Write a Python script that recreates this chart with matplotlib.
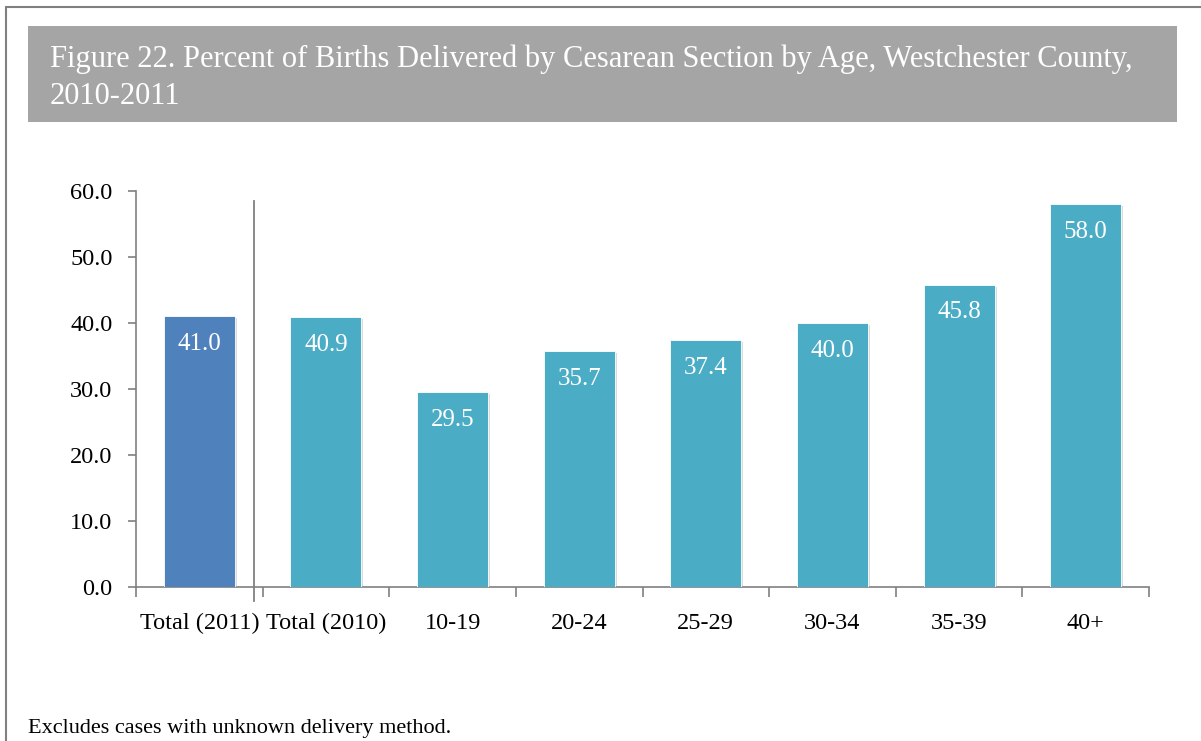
import numpy as np
import matplotlib
matplotlib.use('Agg')
import matplotlib.pyplot as plt
import matplotlib.patheffects as pe
from matplotlib.patches import Rectangle

# data
categories = ['Total (2011)', 'Total (2010)', '10-19', '20-24', '25-29', '30-34', '35-39', '40+']
values = [41.0, 40.9, 29.5, 35.7, 37.4, 40.0, 45.8, 58.0]
bar_colors = ['#4F81BD'] + ['#4BACC6'] * 7
yticks = [0, 10, 20, 30, 40, 50, 60]

TITLE = 'Figure 22. Percent of Births Delivered by Cesarean Section by Age, Westchester County,\n2010-2011'
NOTE = 'Excludes cases with unknown delivery method.'

plt.rcParams['font.family'] = ['Liberation Serif', 'DejaVu Serif']

W, H = 1201, 741
fig = plt.figure(figsize=(W / 100, H / 100), dpi=100)

# outer frame and gray title band (pixel coords -> figure fractions)
fig.patches.append(Rectangle((6 / W, -0.1), 1.2, 1 - 6.5 / H + 0.1, transform=fig.transFigure,
                             fill=False, edgecolor='#808080', linewidth=1.5))
fig.patches.append(Rectangle((28 / W, 1 - 122 / H), (1177 - 28) / W, 96 / H, transform=fig.transFigure,
                             facecolor='#A5A5A5', edgecolor='none'))
fig.text(50 / W, 1 - 78 / H, TITLE, color='white', fontsize=22, va='center', ha='left',
         linespacing=1.38)
fig.text(28 / W, 1 - 728 / H, NOTE, color='black', fontsize=16, va='center', ha='left')

ax = fig.add_axes([136 / W, 154 / H, (1149 - 136) / W, (587 - 191) / H])
x = np.arange(len(categories))
bars = ax.bar(x, values, width=0.56, color=bar_colors, edgecolor='white', linewidth=0.6, zorder=3)
for b in bars:
    b.set_path_effects([pe.SimplePatchShadow(offset=(1.5, -1.5), shadow_rgbFace='#999999', alpha=0.35),
                        pe.Normal()])

for xi, v in zip(x, values):
    ax.text(xi, v - 4.2, f'{v:.1f}', color='white', ha='center', va='center', fontsize=18, zorder=4)

ax.set_xlim(-0.5, len(categories) - 0.5)
ax.set_ylim(0, 60)
ax.set_yticks(yticks)
ax.set_yticklabels([f'{t:.1f}' for t in yticks], fontsize=17.5)
ax.set_xticks(x)
ax.set_xticklabels(categories, fontsize=17.5)
ax.set_xticks(np.arange(-0.5, len(categories), 1), minor=True)
ax.tick_params(axis='x', which='major', length=0, pad=18.5)
ax.tick_params(axis='x', which='minor', length=7, color='#808080', width=1.2, direction='out')
ax.tick_params(axis='y', length=6, color='#808080', width=1.2, pad=11)

for s in ['top', 'right']:
    ax.spines[s].set_visible(False)
for s in ['left', 'bottom']:
    ax.spines[s].set_color('#808080')
    ax.spines[s].set_linewidth(1.2)

# separator between 2011 total and the rest
ax.plot([0.432, 0.432], [-2.1, 58.5], color='#808080', linewidth=1.3, clip_on=False, zorder=2)

fig.savefig('out.png', dpi=100)
